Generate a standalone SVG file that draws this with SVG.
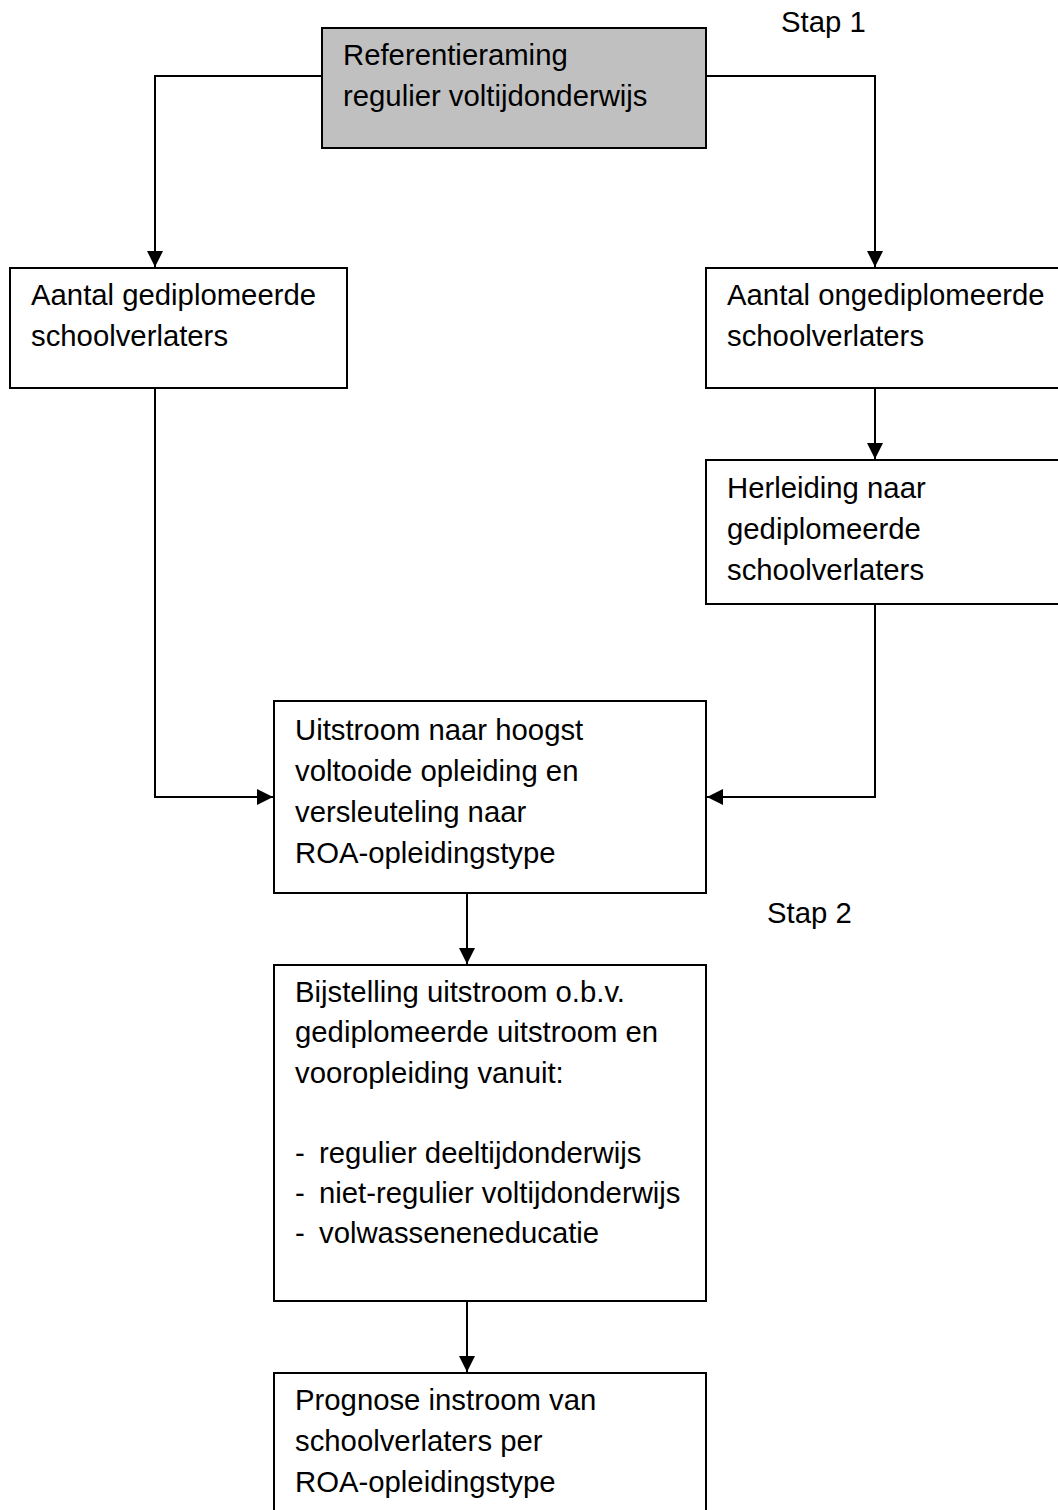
<svg xmlns="http://www.w3.org/2000/svg" width="1058" height="1510" viewBox="0 0 1058 1510">
<defs>
<style>
.box{fill:#fff;stroke:#000;stroke-width:2}
.grey{fill:#c0c0c0}
.t{font-family:"Liberation Sans",Arial,sans-serif;font-size:29.3px;fill:#000}
.c{fill:none;stroke:#000;stroke-width:2}
</style>
<marker id="ah" markerWidth="16" markerHeight="16" viewBox="0 0 16 16" refX="16" refY="8" orient="auto" markerUnits="userSpaceOnUse">
<path d="M0,0 L16,8 L0,16 Z" fill="#000"/>
</marker>
</defs>
<rect width="1058" height="1510" fill="#fff"/>
<g id="connectors">
<path class="c" d="M322,76 H155 V267" marker-end="url(#ah)"/>
<path class="c" d="M706,76 H875 V267" marker-end="url(#ah)"/>
<path class="c" d="M875,388 V459" marker-end="url(#ah)"/>
<path class="c" d="M155,388 V797 H273" marker-end="url(#ah)"/>
<path class="c" d="M875,604 V797 H707" marker-end="url(#ah)"/>
<path class="c" d="M467,893 V964" marker-end="url(#ah)"/>
<path class="c" d="M467,1301 V1372" marker-end="url(#ah)"/>
</g>
<g id="stap1"><text class="t" x="781" y="32">Stap 1</text></g>
<g id="stap2"><text class="t" x="767" y="923">Stap 2</text></g>
<g id="referentieraming">
<rect class="box grey" x="322" y="28" width="384" height="120"/>
<text class="t" x="343" y="65">Referentieraming</text>
<text class="t" x="343" y="106">regulier voltijdonderwijs</text>
</g>
<g id="gediplomeerd">
<rect class="box" x="10" y="268" width="337" height="120"/>
<text class="t" x="31" y="305">Aantal gediplomeerde</text>
<text class="t" x="31" y="346">schoolverlaters</text>
</g>
<g id="ongediplomeerd">
<rect class="box" x="706" y="268" width="370" height="120"/>
<text class="t" x="727" y="305">Aantal ongediplomeerde</text>
<text class="t" x="727" y="346">schoolverlaters</text>
</g>
<g id="herleiding">
<rect class="box" x="706" y="460" width="370" height="144"/>
<text class="t" x="727" y="498">Herleiding naar</text>
<text class="t" x="727" y="539">gediplomeerde</text>
<text class="t" x="727" y="580">schoolverlaters</text>
</g>
<g id="uitstroom">
<rect class="box" x="274" y="701" width="432" height="192"/>
<text class="t" x="295" y="740">Uitstroom naar hoogst</text>
<text class="t" x="295" y="781">voltooide opleiding en</text>
<text class="t" x="295" y="822">versleuteling naar</text>
<text class="t" x="295" y="863">ROA-opleidingstype</text>
</g>
<g id="bijstelling">
<rect class="box" x="274" y="965" width="432" height="336"/>
<text class="t" x="295" y="1002">Bijstelling uitstroom o.b.v.</text>
<text class="t" x="295" y="1042">gediplomeerde uitstroom en</text>
<text class="t" x="295" y="1083">vooropleiding vanuit:</text>
<text class="t" x="295" y="1163">-</text><text class="t" x="319" y="1163">regulier deeltijdonderwijs</text>
<text class="t" x="295" y="1203">-</text><text class="t" x="319" y="1203">niet-regulier voltijdonderwijs</text>
<text class="t" x="295" y="1243">-</text><text class="t" x="319" y="1243">volwasseneneducatie</text>
</g>
<g id="prognose">
<rect class="box" x="274" y="1373" width="432" height="160"/>
<text class="t" x="295" y="1410">Prognose instroom van</text>
<text class="t" x="295" y="1451">schoolverlaters per</text>
<text class="t" x="295" y="1492">ROA-opleidingstype</text>
</g>
</svg>
